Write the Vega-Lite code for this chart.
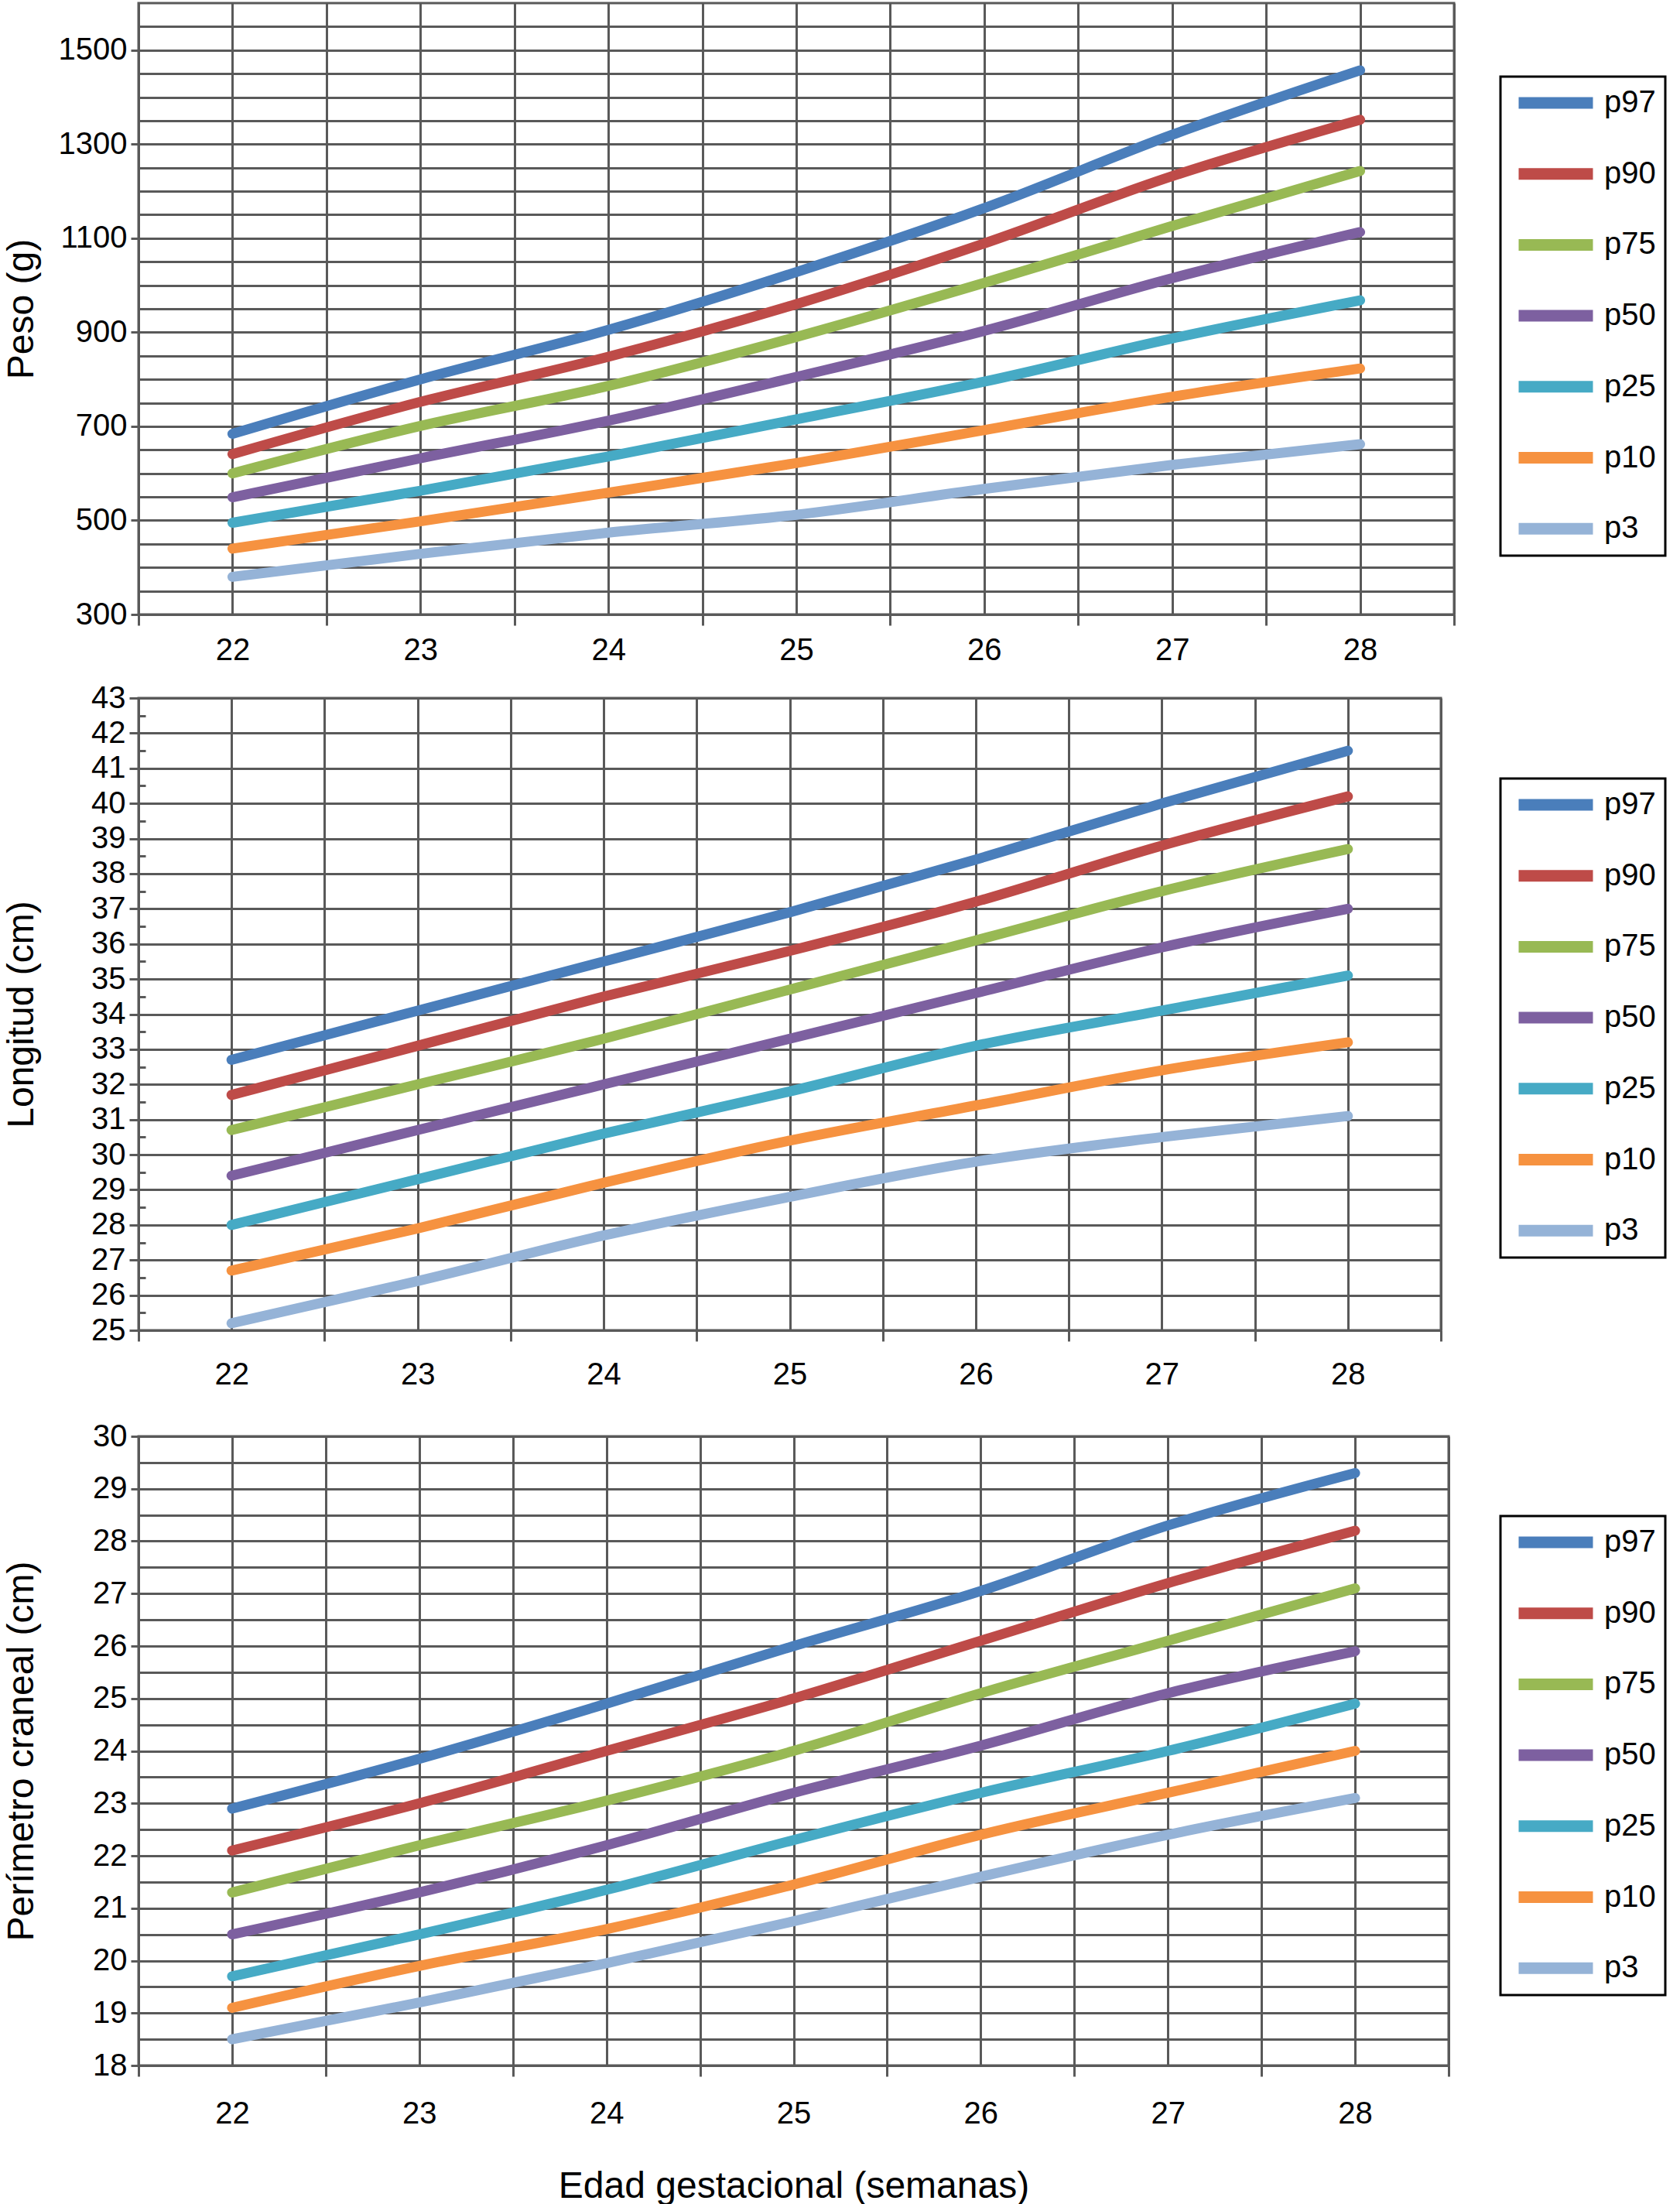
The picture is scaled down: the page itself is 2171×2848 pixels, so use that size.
{
  "$schema": "https://vega.github.io/schema/vega-lite/v6.json",
  "padding": {"left": 2, "top": 2, "right": 0, "bottom": 0},
  "background": "white",
  "datasets": {
    "peso": [
      {"semana": 22, "percentil": "p97", "valor": 684}, {"semana": 23, "percentil": "p97", "valor": 800}, {"semana": 24, "percentil": "p97", "valor": 905}, {"semana": 25, "percentil": "p97", "valor": 1028}, {"semana": 26, "percentil": "p97", "valor": 1164}, {"semana": 27, "percentil": "p97", "valor": 1320}, {"semana": 28, "percentil": "p97", "valor": 1457},
      {"semana": 22, "percentil": "p90", "valor": 641}, {"semana": 23, "percentil": "p90", "valor": 752}, {"semana": 24, "percentil": "p90", "valor": 848}, {"semana": 25, "percentil": "p90", "valor": 960}, {"semana": 26, "percentil": "p90", "valor": 1089}, {"semana": 27, "percentil": "p90", "valor": 1232}, {"semana": 28, "percentil": "p90", "valor": 1352},
      {"semana": 22, "percentil": "p75", "valor": 600}, {"semana": 23, "percentil": "p75", "valor": 701}, {"semana": 24, "percentil": "p75", "valor": 786}, {"semana": 25, "percentil": "p75", "valor": 890}, {"semana": 26, "percentil": "p75", "valor": 1005}, {"semana": 27, "percentil": "p75", "valor": 1126}, {"semana": 28, "percentil": "p75", "valor": 1243},
      {"semana": 22, "percentil": "p50", "valor": 549}, {"semana": 23, "percentil": "p50", "valor": 632}, {"semana": 24, "percentil": "p50", "valor": 712}, {"semana": 25, "percentil": "p50", "valor": 805}, {"semana": 26, "percentil": "p50", "valor": 903}, {"semana": 27, "percentil": "p50", "valor": 1015}, {"semana": 28, "percentil": "p50", "valor": 1113},
      {"semana": 22, "percentil": "p25", "valor": 495}, {"semana": 23, "percentil": "p25", "valor": 563}, {"semana": 24, "percentil": "p25", "valor": 636}, {"semana": 25, "percentil": "p25", "valor": 715}, {"semana": 26, "percentil": "p25", "valor": 795}, {"semana": 27, "percentil": "p25", "valor": 887}, {"semana": 28, "percentil": "p25", "valor": 968},
      {"semana": 22, "percentil": "p10", "valor": 440}, {"semana": 23, "percentil": "p10", "valor": 498}, {"semana": 24, "percentil": "p10", "valor": 559}, {"semana": 25, "percentil": "p10", "valor": 622}, {"semana": 26, "percentil": "p10", "valor": 692}, {"semana": 27, "percentil": "p10", "valor": 763}, {"semana": 28, "percentil": "p10", "valor": 823},
      {"semana": 22, "percentil": "p3", "valor": 380}, {"semana": 23, "percentil": "p3", "valor": 429}, {"semana": 24, "percentil": "p3", "valor": 474}, {"semana": 25, "percentil": "p3", "valor": 512}, {"semana": 26, "percentil": "p3", "valor": 567}, {"semana": 27, "percentil": "p3", "valor": 618}, {"semana": 28, "percentil": "p3", "valor": 662}
    ],
    "longitud": [
      {"semana": 22, "percentil": "p97", "valor": 32.7}, {"semana": 23, "percentil": "p97", "valor": 34.1}, {"semana": 24, "percentil": "p97", "valor": 35.5}, {"semana": 25, "percentil": "p97", "valor": 36.9}, {"semana": 26, "percentil": "p97", "valor": 38.4}, {"semana": 27, "percentil": "p97", "valor": 40.0}, {"semana": 28, "percentil": "p97", "valor": 41.5},
      {"semana": 22, "percentil": "p90", "valor": 31.7}, {"semana": 23, "percentil": "p90", "valor": 33.1}, {"semana": 24, "percentil": "p90", "valor": 34.5}, {"semana": 25, "percentil": "p90", "valor": 35.8}, {"semana": 26, "percentil": "p90", "valor": 37.2}, {"semana": 27, "percentil": "p90", "valor": 38.8}, {"semana": 28, "percentil": "p90", "valor": 40.2},
      {"semana": 22, "percentil": "p75", "valor": 30.7}, {"semana": 23, "percentil": "p75", "valor": 32.0}, {"semana": 24, "percentil": "p75", "valor": 33.3}, {"semana": 25, "percentil": "p75", "valor": 34.7}, {"semana": 26, "percentil": "p75", "valor": 36.1}, {"semana": 27, "percentil": "p75", "valor": 37.5}, {"semana": 28, "percentil": "p75", "valor": 38.7},
      {"semana": 22, "percentil": "p50", "valor": 29.4}, {"semana": 23, "percentil": "p50", "valor": 30.7}, {"semana": 24, "percentil": "p50", "valor": 32.0}, {"semana": 25, "percentil": "p50", "valor": 33.3}, {"semana": 26, "percentil": "p50", "valor": 34.6}, {"semana": 27, "percentil": "p50", "valor": 35.9}, {"semana": 28, "percentil": "p50", "valor": 37.0},
      {"semana": 22, "percentil": "p25", "valor": 28.0}, {"semana": 23, "percentil": "p25", "valor": 29.3}, {"semana": 24, "percentil": "p25", "valor": 30.6}, {"semana": 25, "percentil": "p25", "valor": 31.8}, {"semana": 26, "percentil": "p25", "valor": 33.1}, {"semana": 27, "percentil": "p25", "valor": 34.1}, {"semana": 28, "percentil": "p25", "valor": 35.1},
      {"semana": 22, "percentil": "p10", "valor": 26.7}, {"semana": 23, "percentil": "p10", "valor": 27.9}, {"semana": 24, "percentil": "p10", "valor": 29.2}, {"semana": 25, "percentil": "p10", "valor": 30.4}, {"semana": 26, "percentil": "p10", "valor": 31.4}, {"semana": 27, "percentil": "p10", "valor": 32.4}, {"semana": 28, "percentil": "p10", "valor": 33.2},
      {"semana": 22, "percentil": "p3", "valor": 25.2}, {"semana": 23, "percentil": "p3", "valor": 26.4}, {"semana": 24, "percentil": "p3", "valor": 27.7}, {"semana": 25, "percentil": "p3", "valor": 28.8}, {"semana": 26, "percentil": "p3", "valor": 29.8}, {"semana": 27, "percentil": "p3", "valor": 30.5}, {"semana": 28, "percentil": "p3", "valor": 31.1}
    ],
    "perimetro": [
      {"semana": 22, "percentil": "p97", "valor": 22.9}, {"semana": 23, "percentil": "p97", "valor": 23.85}, {"semana": 24, "percentil": "p97", "valor": 24.9}, {"semana": 25, "percentil": "p97", "valor": 26.0}, {"semana": 26, "percentil": "p97", "valor": 27.05}, {"semana": 27, "percentil": "p97", "valor": 28.3}, {"semana": 28, "percentil": "p97", "valor": 29.3},
      {"semana": 22, "percentil": "p90", "valor": 22.1}, {"semana": 23, "percentil": "p90", "valor": 23.0}, {"semana": 24, "percentil": "p90", "valor": 24.0}, {"semana": 25, "percentil": "p90", "valor": 25.0}, {"semana": 26, "percentil": "p90", "valor": 26.1}, {"semana": 27, "percentil": "p90", "valor": 27.2}, {"semana": 28, "percentil": "p90", "valor": 28.2},
      {"semana": 22, "percentil": "p75", "valor": 21.3}, {"semana": 23, "percentil": "p75", "valor": 22.2}, {"semana": 24, "percentil": "p75", "valor": 23.05}, {"semana": 25, "percentil": "p75", "valor": 24.0}, {"semana": 26, "percentil": "p75", "valor": 25.1}, {"semana": 27, "percentil": "p75", "valor": 26.1}, {"semana": 28, "percentil": "p75", "valor": 27.1},
      {"semana": 22, "percentil": "p50", "valor": 20.5}, {"semana": 23, "percentil": "p50", "valor": 21.3}, {"semana": 24, "percentil": "p50", "valor": 22.2}, {"semana": 25, "percentil": "p50", "valor": 23.2}, {"semana": 26, "percentil": "p50", "valor": 24.1}, {"semana": 27, "percentil": "p50", "valor": 25.1}, {"semana": 28, "percentil": "p50", "valor": 25.9},
      {"semana": 22, "percentil": "p25", "valor": 19.7}, {"semana": 23, "percentil": "p25", "valor": 20.5}, {"semana": 24, "percentil": "p25", "valor": 21.35}, {"semana": 25, "percentil": "p25", "valor": 22.3}, {"semana": 26, "percentil": "p25", "valor": 23.2}, {"semana": 27, "percentil": "p25", "valor": 24.0}, {"semana": 28, "percentil": "p25", "valor": 24.9},
      {"semana": 22, "percentil": "p10", "valor": 19.1}, {"semana": 23, "percentil": "p10", "valor": 19.9}, {"semana": 24, "percentil": "p10", "valor": 20.6}, {"semana": 25, "percentil": "p10", "valor": 21.45}, {"semana": 26, "percentil": "p10", "valor": 22.4}, {"semana": 27, "percentil": "p10", "valor": 23.2}, {"semana": 28, "percentil": "p10", "valor": 24.0},
      {"semana": 22, "percentil": "p3", "valor": 18.5}, {"semana": 23, "percentil": "p3", "valor": 19.2}, {"semana": 24, "percentil": "p3", "valor": 19.95}, {"semana": 25, "percentil": "p3", "valor": 20.75}, {"semana": 26, "percentil": "p3", "valor": 21.6}, {"semana": 27, "percentil": "p3", "valor": 22.4}, {"semana": 28, "percentil": "p3", "valor": 23.1}
    ]
  },
  "vconcat": [
    {
      "vconcat": [
        {
          "width": 1700,
          "height": 790,
          "data": {"name": "peso"},
          "mark": {"type": "line", "strokeWidth": 13, "strokeCap": "round", "interpolate": "monotone"},
          "encoding": {
            "x": {
              "field": "semana", "type": "quantitative",
              "scale": {"domain": [21.5, 28.5], "nice": false, "zero": false},
              "axis": {
                "title": null,
                "values": [21.5, 22, 22.5, 23, 23.5, 24, 24.5, 25, 25.5, 26, 26.5, 27, 27.5, 28, 28.5],
                "labelExpr": "datum.value % 1 == 0 ? format(datum.value, 'd') : ''",
                "tickOpacity": {"condition": {"test": "datum.value % 1 == 0", "value": 0}, "value": 1},
                "tickSize": 14, "labelPadding": 12
              }
            },
            "y": {
              "field": "valor", "type": "quantitative",
              "scale": {"domain": [300, 1600], "nice": false, "zero": false},
              "axis": {
                "title": "Peso (g)",
                "titlePadding": 23,
                "values": [300, 350, 400, 450, 500, 550, 600, 650, 700, 750, 800, 850, 900, 950, 1000, 1050, 1100, 1150, 1200, 1250, 1300, 1350, 1400, 1450, 1500, 1550],
                "labelExpr": "(datum.value - 300) % 200 == 0 ? format(datum.value, 'd') : ''",
                "tickOpacity": {"condition": {"test": "(datum.value - 300) % 200 == 0", "value": 1}, "value": 0},
                "tickSize": 10, "labelPadding": 5
              }
            },
            "color": {
              "field": "percentil", "type": "nominal",
              "scale": {"domain": ["p97", "p90", "p75", "p50", "p25", "p10", "p3"], "range": ["#4A7EBB", "#BE4B48", "#98B954", "#7D60A0", "#46AAC5", "#F69240", "#95B3D7"]},
              "legend": {"orient": "none", "legendX": 1760, "legendY": 95, "labelExpr": "datum.label + '\u00a0\u00a0'"}
            }
          }
        },
        {
          "width": 1683,
          "height": 817,
          "data": {"name": "longitud"},
          "mark": {"type": "line", "strokeWidth": 13, "strokeCap": "round", "interpolate": "monotone"},
          "encoding": {
            "x": {
              "field": "semana", "type": "quantitative",
              "scale": {"domain": [21.5, 28.5], "nice": false, "zero": false},
              "axis": {
                "title": null,
                "values": [21.5, 22, 22.5, 23, 23.5, 24, 24.5, 25, 25.5, 26, 26.5, 27, 27.5, 28, 28.5],
                "labelExpr": "datum.value % 1 == 0 ? format(datum.value, 'd') : ''",
                "tickOpacity": {"condition": {"test": "datum.value % 1 == 0", "value": 0}, "value": 1},
                "tickSize": 14, "labelPadding": 23
              }
            },
            "y": {
              "field": "valor", "type": "quantitative",
              "scale": {"domain": [25, 43], "nice": false, "zero": false},
              "axis": {
                "title": "Longitud (cm)",
                "titlePadding": 65,
                "values": [25, 25.5, 26, 26.5, 27, 27.5, 28, 28.5, 29, 29.5, 30, 30.5, 31, 31.5, 32, 32.5, 33, 33.5, 34, 34.5, 35, 35.5, 36, 36.5, 37, 37.5, 38, 38.5, 39, 39.5, 40, 40.5, 41, 41.5, 42, 42.5, 43],
                "labelExpr": "datum.value % 1 == 0 ? format(datum.value, 'd') : ''",
                "gridOpacity": {"condition": {"test": "datum.value % 1 == 0", "value": 1}, "value": 0},
                "tickSize": {"condition": {"test": "datum.value % 1 == 0", "value": 12}, "value": -9},
                "labelPadding": 5
              }
            },
            "color": {
              "field": "percentil", "type": "nominal",
              "scale": {"domain": ["p97", "p90", "p75", "p50", "p25", "p10", "p3"], "range": ["#4A7EBB", "#BE4B48", "#98B954", "#7D60A0", "#46AAC5", "#F69240", "#95B3D7"]},
              "legend": {"orient": "none", "legendX": 1760, "legendY": 104, "labelExpr": "datum.label + '\u00a0\u00a0'"}
            }
          }
        }
      ],
      "spacing": 18,
      "resolve": {"scale": {"color": "independent"}, "legend": {"color": "independent"}}
    },
    {
      "width": 1693,
      "height": 813,
      "data": {"name": "perimetro"},
      "mark": {"type": "line", "strokeWidth": 13, "strokeCap": "round", "interpolate": "monotone"},
      "encoding": {
        "x": {
          "field": "semana", "type": "quantitative",
          "scale": {"domain": [21.5, 28.5], "nice": false, "zero": false},
          "axis": {
            "title": "Edad gestacional (semanas)",
            "titleFontSize": 48,
            "titlePadding": 50,
            "values": [21.5, 22, 22.5, 23, 23.5, 24, 24.5, 25, 25.5, 26, 26.5, 27, 27.5, 28, 28.5],
            "labelExpr": "datum.value % 1 == 0 ? format(datum.value, 'd') : ''",
            "tickOpacity": {"condition": {"test": "datum.value % 1 == 0", "value": 0}, "value": 1},
            "tickSize": 14, "labelPadding": 28
          }
        },
        "y": {
          "field": "valor", "type": "quantitative",
          "scale": {"domain": [18, 30], "nice": false, "zero": false},
          "axis": {
            "title": "Perímetro craneal (cm)",
            "titlePadding": 67,
            "values": [18, 18.5, 19, 19.5, 20, 20.5, 21, 21.5, 22, 22.5, 23, 23.5, 24, 24.5, 25, 25.5, 26, 26.5, 27, 27.5, 28, 28.5, 29, 29.5, 30],
            "labelExpr": "datum.value % 1 == 0 ? format(datum.value, 'd') : ''",
            "tickOpacity": {"condition": {"test": "datum.value % 1 == 0", "value": 1}, "value": 0},
            "tickSize": 10, "labelPadding": 5
          }
        },
        "color": {
          "field": "percentil", "type": "nominal",
          "scale": {"domain": ["p97", "p90", "p75", "p50", "p25", "p10", "p3"], "range": ["#4A7EBB", "#BE4B48", "#98B954", "#7D60A0", "#46AAC5", "#F69240", "#95B3D7"]},
          "legend": {"orient": "none", "legendX": 1760, "legendY": 103, "labelExpr": "datum.label + '\u00a0\u00a0'"}
        }
      }
    }
  ],
  "spacing": 36,
  "resolve": {"scale": {"color": "independent"}, "legend": {"color": "independent"}},
  "config": {
    "view": {"stroke": "#595959", "strokeWidth": 3},
    "font": "Liberation Sans",
    "axis": {
      "domainColor": "#595959", "domainWidth": 3,
      "gridColor": "#595959", "gridWidth": 3, "grid": true,
      "tickColor": "#595959", "tickWidth": 3,
      "labelFont": "Liberation Sans", "labelFontSize": 40, "labelColor": "black",
      "labelOverlap": false, "labelFlush": false, "labelBound": false,
      "titleFont": "Liberation Sans", "titleFontSize": 48, "titleFontWeight": "normal", "titleColor": "black"
    },
    "legend": {
      "title": null,
      "symbolType": "stroke", "symbolStrokeWidth": 15, "symbolSize": 9216,
      "symbolOffset": 4,
      "clipHeight": 44,
      "labelFont": "Liberation Sans", "labelFontSize": 40, "labelColor": "black", "labelOffset": 7,
      "strokeColor": "black", "strokeWidth": 3, "padding": 12, "rowPadding": 47.7
    }
  }
}
